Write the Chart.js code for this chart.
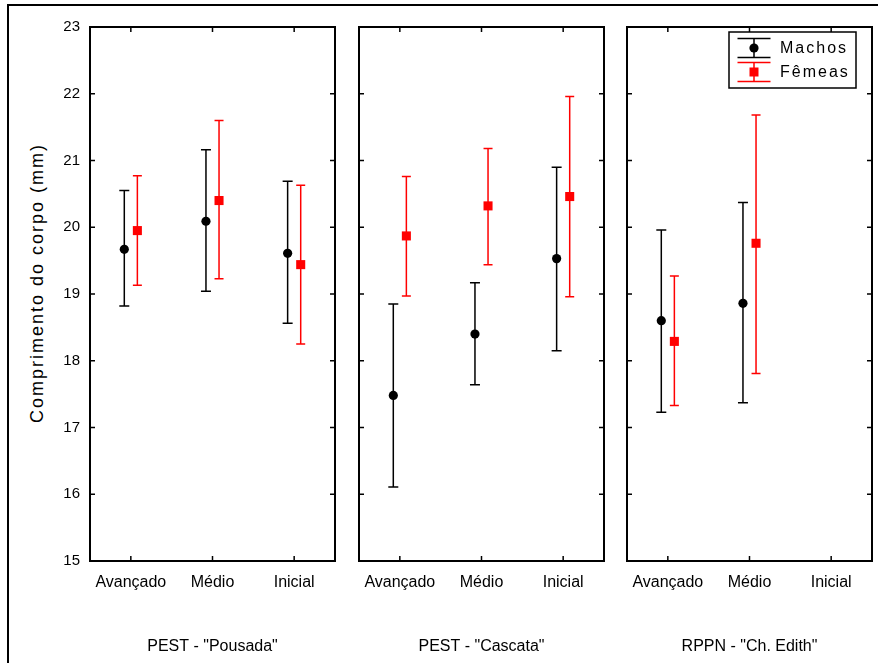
<!DOCTYPE html>
<html>
<head>
<meta charset="utf-8">
<script src="https://cdn.jsdelivr.net/npm/chart.js@4.4.1/dist/chart.umd.min.js"></script>
<style>
html,body{margin:0;padding:0;background:#fff;width:878px;height:663px;overflow:hidden;font-family:"Liberation Sans",Arial,sans-serif;}
#frame{position:absolute;left:7px;top:4px;width:920px;height:720px;border:2px solid #000;box-sizing:border-box;}
canvas{position:absolute;}
#ytitle{position:absolute;left:37px;top:283px;transform:translate(-50%,-50%) rotate(-90deg);font-size:18px;letter-spacing:2px;white-space:nowrap;color:#000;}
</style>
</head>
<body>
<div id="frame"></div>
<div id="ytitle">Comprimento do corpo (mm)</div>
<canvas id="c0"></canvas>
<canvas id="c1"></canvas>
<canvas id="c2"></canvas>
<script>
// ---- data ----
const stages = ['Avançado', 'Médio', 'Inicial'];
const sites = ['PEST - "Pousada"', 'PEST - "Cascata"', 'RPPN - "Ch. Edith"'];
const seriesNames = ['Machos', 'Fêmeas'];
const yMin = 15, yMax = 23;
// Machos (per site: Avançado, Médio, Inicial)
const machosMean  = [[19.67, 20.09, 19.61], [17.48, 18.40, 19.53], [18.60, 18.86, null]];
const machosLower = [[18.82, 19.04, 18.56], [16.11, 17.64, 18.15], [17.23, 17.37, null]];
const machosUpper = [[20.55, 21.16, 20.69], [18.85, 19.17, 20.90], [19.96, 20.37, null]];
// Fêmeas
const femeasMean  = [[19.95, 20.40, 19.44], [19.87, 20.32, 20.46], [18.29, 19.76, null]];
const femeasLower = [[19.13, 19.23, 18.25], [18.97, 19.44, 18.96], [17.33, 17.81, null]];
const femeasUpper = [[20.77, 21.60, 20.63], [20.76, 21.18, 21.96], [19.27, 21.68, null]];

// ---- styling / layout ----
const RED = '#ff0000', BLACK = '#000000';
const FONT = '"Liberation Sans", Arial, sans-serif';
const chartLefts = [90, 359, 627];
const plotW = 245;
const canvasTop = 15, padTop = 12, plotBottom = 561, canvasBottom = 656;
const offsets = [-0.08, 0.08];

const series = [
  {name: seriesNames[0], mean: machosMean, lower: machosLower, upper: machosUpper, color: BLACK, style: 'circle', radius: 4.6, cap: 10},
  {name: seriesNames[1], mean: femeasMean, lower: femeasLower, upper: femeasUpper, color: RED, style: 'rect', radius: 6.4, cap: 9}
];

const panelPlugin = {
  id: 'panelDeco',
  beforeDatasetsDraw(chart, args, opts) {
    const {ctx, scales: {x, y}} = chart;
    const p = opts.panel;
    ctx.save();
    ctx.lineWidth = 1.5;
    series.forEach((s, si) => {
      ctx.strokeStyle = s.color;
      stages.forEach((st, i) => {
        const m = s.mean[p][i];
        if (m === null) return;
        const px = x.getPixelForValue(i + offsets[si]);
        const yl = y.getPixelForValue(s.lower[p][i]);
        const yu = y.getPixelForValue(s.upper[p][i]);
        ctx.beginPath();
        ctx.moveTo(px, yl); ctx.lineTo(px, yu);
        ctx.moveTo(px - s.cap / 2, yl); ctx.lineTo(px + s.cap / 2, yl);
        ctx.moveTo(px - s.cap / 2, yu); ctx.lineTo(px + s.cap / 2, yu);
        ctx.stroke();
      });
    });
    ctx.restore();
  },
  afterDraw(chart, args, opts) {
    const {ctx, chartArea: a, scales: {x, y}} = chart;
    ctx.save();
    ctx.strokeStyle = BLACK;
    ctx.lineWidth = 2;
    ctx.strokeRect(a.left, a.top, a.right - a.left, a.bottom - a.top);
    ctx.lineWidth = 1.5;
    const tl = 5;
    ctx.beginPath();
    y.ticks.forEach(t => {
      const py = y.getPixelForValue(t.value);
      ctx.moveTo(a.left, py); ctx.lineTo(a.left + tl, py);
      ctx.moveTo(a.right, py); ctx.lineTo(a.right - tl, py);
    });
    x.ticks.forEach(t => {
      const px = x.getPixelForValue(t.value);
      ctx.moveTo(px, a.top); ctx.lineTo(px, a.top + tl);
      ctx.moveTo(px, a.bottom); ctx.lineTo(px, a.bottom - tl);
    });
    ctx.stroke();

    if (opts.legend) {
      const bx = a.right - 143, by = a.top + 5, bw = 127, bh = 56;
      ctx.fillStyle = '#fff';
      ctx.fillRect(bx, by, bw, bh);
      ctx.lineWidth = 1.5;
      ctx.strokeStyle = BLACK;
      ctx.strokeRect(bx, by, bw, bh);
      const sx = bx + 25;
      series.forEach((s, si) => {
        const cy = by + 16 + si * 24;
        ctx.strokeStyle = s.color;
        ctx.lineWidth = 1.5;
        ctx.beginPath();
        ctx.moveTo(sx, cy - 9.5); ctx.lineTo(sx, cy + 9.5);
        ctx.moveTo(sx - 16.5, cy - 9.5); ctx.lineTo(sx + 16.5, cy - 9.5);
        ctx.moveTo(sx - 16.5, cy + 9.5); ctx.lineTo(sx + 16.5, cy + 9.5);
        ctx.stroke();
        ctx.fillStyle = s.color;
        ctx.beginPath();
        if (s.style === 'circle') {
          ctx.arc(sx, cy, 4.6, 0, Math.PI * 2);
        } else {
          ctx.rect(sx - 4.5, cy - 4.5, 9, 9);
        }
        ctx.fill();
        ctx.fillStyle = BLACK;
        ctx.font = '16px ' + FONT;
        ctx.letterSpacing = '2px';
        ctx.textAlign = 'left';
        ctx.textBaseline = 'middle';
        ctx.fillText(s.name, bx + 51, cy + 1);
        ctx.letterSpacing = '0px';
      });
    }
    ctx.restore();
  }
};

sites.forEach((site, p) => {
  const yW = p === 0 ? 70 : 0;
  const padLeft = 20, padRight = 10;
  const canvas = document.getElementById('c' + p);
  const w = padLeft + yW + plotW + padRight;
  const h = canvasBottom - canvasTop;
  canvas.width = w; canvas.height = h;
  canvas.style.left = (chartLefts[p] - yW - padLeft) + 'px';
  canvas.style.top = canvasTop + 'px';
  canvas.style.width = w + 'px'; canvas.style.height = h + 'px';

  const datasets = series.map((s, si) => ({
    label: s.name,
    data: stages.map((st, i) => s.mean[p][i] === null ? null : {x: i + offsets[si], y: s.mean[p][i]}).filter(d => d !== null),
    pointStyle: s.style,
    pointRadius: s.radius,
    pointBackgroundColor: s.color,
    pointBorderWidth: 0,
    pointBorderColor: s.color,
    showLine: false
  }));

  new Chart(canvas, {
    type: 'scatter',
    data: {datasets},
    plugins: [panelPlugin],
    options: {
      responsive: false,
      animation: false,
      events: [],
      devicePixelRatio: 1,
      layout: {padding: {top: padTop, left: padLeft, right: padRight, bottom: 0}},
      plugins: {
        legend: {display: false},
        tooltip: {enabled: false},
        panelDeco: {panel: p, legend: p === 2}
      },
      scales: {
        x: {
          type: 'linear',
          min: -0.5, max: 2.5,
          afterBuildTicks: s => { s.ticks = stages.map((_, i) => ({value: i})); },
          afterFit: s => { s.height = canvasBottom - plotBottom; s.paddingLeft = 0; s.paddingRight = 0; },
          grid: {display: false, drawTicks: false},
          border: {display: false},
          ticks: {
            autoSkip: false, maxRotation: 0, padding: 12, color: BLACK,
            font: {family: FONT, size: 16},
            callback: v => stages[Math.round(v)]
          },
          title: {display: true, text: site, color: BLACK, padding: 0, font: {family: FONT, size: 16}}
        },
        y: {
          min: yMin, max: yMax,
          afterFit: s => { s.width = yW; s.paddingTop = 0; s.paddingBottom = 0; },
          grid: {display: false, drawTicks: false},
          border: {display: false},
          ticks: {
            display: p === 0, stepSize: 1, padding: 10, color: BLACK,
            font: {family: FONT, size: 15}
          }
        }
      }
    }
  });
});
</script>
</body>
</html>
